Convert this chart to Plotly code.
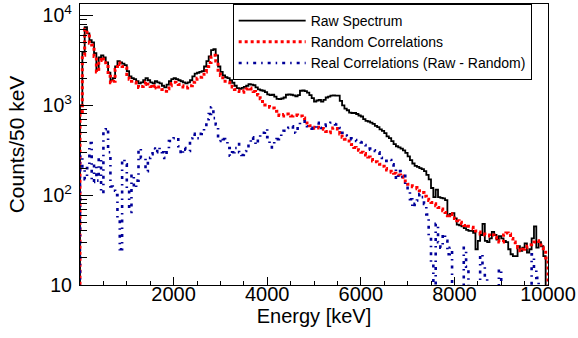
import plotly.graph_objects as go

# ---- data (bin low edges in keV, 50 keV bins) ----
bin_width = 50
bin_edges = list(range(0, 10000, bin_width))

raw_spectrum = [
    1000, 3900, 7400, 6300, 5300, 5000, 3800, 2500, 3400, 3600,
    3400, 3000, 2300, 1900, 2000, 2700, 3100, 3000, 2900, 2800,
    2400, 2100, 2000, 1950, 1850, 1750, 1800, 1900, 2000, 1900,
    1800, 1750, 1850, 1800, 1750, 1650, 1580, 1700, 1850, 1950,
    2000, 1950, 1900, 1850, 1800, 1750, 1800, 1900, 2100, 2250,
    2300, 2350, 2400, 2700, 3100, 3500, 4100, 4200, 3600, 2700,
    2350, 2150, 2050, 2000, 1900, 1780, 1650, 1550, 1520, 1560,
    1600, 1650, 1720, 1700, 1670, 1580, 1500, 1470, 1450, 1400,
    1320, 1300, 1310, 1250, 1180, 1170, 1190, 1220, 1310, 1320,
    1310, 1290, 1260, 1300, 1450, 1460, 1440, 1380, 1300, 1200,
    1100, 1130, 1150, 1100, 1150, 1220, 1250, 1280, 1290, 1280,
    1280, 1120, 1000, 920, 880, 830, 820, 820, 800, 770,
    750, 700, 670, 660, 640, 620, 590, 570, 540, 520,
    490, 450, 430, 400, 370, 350, 340, 330, 315, 295,
    270, 245, 225, 212, 206, 200, 195, 185, 168, 150,
    120, 95, 115, 95, 93, 92, 88, 60, 62, 63,
    55, 47, 46, 45, 43, 41, 40, 40, 38, 25,
    31, 36, 48, 31, 30, 33, 39, 36, 32, 35,
    33, 31, 30, 25, 22, 21, 21, 27, 24, 26,
    29, 23, 25, 33, 45, 26, 30, 27, 21, 0,
]

random_correlations = [
    850, 3600, 7000, 5900, 4900, 4700, 3500, 2350, 3150, 3400,
    3100, 2700, 2100, 1780, 1850, 2500, 2950, 2850, 2700, 2600,
    2200, 1950, 1850, 1800, 1700, 1580, 1620, 1700, 1820, 1720,
    1620, 1560, 1650, 1600, 1600, 1500, 1430, 1530, 1650, 1750,
    1800, 1750, 1700, 1650, 1600, 1560, 1600, 1650, 1800, 1950,
    2000, 2050, 2100, 2350, 2700, 3000, 3450, 3600, 3100, 2450,
    2150, 1950, 1850, 1800, 1700, 1600, 1500, 1450, 1420, 1400,
    1450, 1520, 1560, 1520, 1420, 1320, 1300, 1180, 1060, 1010,
    970, 950, 930, 900, 860, 770, 760, 790, 800, 770,
    760, 770, 780, 770, 760, 720, 670, 610, 590, 570,
    555, 570, 560, 550, 540, 510, 495, 530, 560, 550,
    545, 480, 440, 420, 400, 380, 365, 340, 320, 315,
    300, 290, 280, 265, 250, 240, 235, 228, 220, 210,
    198, 190, 185, 180, 175, 170, 168, 163, 150, 140,
    132, 127, 124, 122, 118, 112, 107, 97, 90, 87,
    83, 80, 76, 73, 70, 67, 64, 59, 62, 61,
    55, 52, 50, 48, 46, 47, 45, 44, 42, 40,
    39, 37, 37, 36, 36, 35, 36, 34, 31, 30,
    30, 36, 38, 37, 33, 30, 28, 26, 24, 25,
    26, 27, 28, 29, 30, 31, 29, 26, 24, 20,
]

real_correlations = [
    280, 200, 150, 200, 380, 140, 220, 145, 260, 105,
    540, 560, 300, 125, 112, 100, 55, 25, 250, 220,
    120, 65, 170, 120, 145, 330, 260, 255, 185, 260,
    285, 330, 300, 340, 320, 300, 260, 330, 400, 420,
    430, 440, 350, 285, 335, 320, 310, 430, 480, 450,
    430, 480, 500, 560, 700, 800, 950, 720, 610, 400,
    430, 420, 400, 335, 275, 300, 335, 370, 300, 280,
    310, 350, 385, 440, 400, 365, 440, 470, 495, 540,
    440, 380, 340, 400, 420, 440, 480, 520, 540, 560,
    585, 540, 495, 610, 640, 665, 620, 585, 560, 550,
    540, 640, 600, 560, 590, 610, 630, 640, 620, 610,
    580, 560, 495, 460, 440, 430, 420, 410, 400, 390,
    385, 360, 340, 330, 320, 315, 310, 300, 275, 260,
    240, 250, 245, 220, 205, 150, 185, 160, 170, 130,
    110, 90, 73, 80, 87, 103, 95, 80, 61, 34,
    18, 0, 48, 30, 26, 37, 31, 22, 26, 0,
    0, 0, 0, 0, 26, 16, 0, 0, 0, 0,
    0, 22, 16, 12, 0, 0, 0, 0, 0, 15,
    0, 0, 0, 0, 0, 0, 0, 0, 0, 0,
    0, 0, 0, 22, 16, 12, 0, 0, 0, 0,
]

series_names = ["Raw Spectrum", "Random Correlations", "Real Correlations (Raw - Random)"]
x_tick_values = [2000, 4000, 6000, 8000, 10000]
x_tick_labels = ["2000", "4000", "6000", "8000", "10000"]

FLOOR = 1.0  # empty / non-positive bins are drawn down to the frame (clipped)
X_MAX = bin_edges[-1] + bin_width


def histogram_outline(values):
    xs = [bin_edges[0]] + bin_edges + [X_MAX, X_MAX]
    ys = [FLOOR] + [max(v, FLOOR) for v in values] + [max(values[-1], FLOOR), FLOOR]
    return xs, ys


FONT = "Liberation Sans, Arial, Helvetica, sans-serif"

styles = [
    dict(color="#000000", width=1.8, dash="solid"),
    dict(color="#ff0000", width=3, dash="3px,3px"),
    dict(color="#000099", width=2.6, dash="3px,5px,1.5px,5px"),
]

fig = go.Figure()
for name, vals, st, grp in zip(series_names,
                               [raw_spectrum, random_correlations, real_correlations],
                               styles, ["a", "b", "c"]):
    xs, ys = histogram_outline(vals)
    fig.add_trace(go.Scatter(
        x=xs, y=ys, mode="lines", name=name, legendgroup=grp,
        line=dict(shape="hv", **st),
    ))

fig.update_layout(
    width=578, height=338,
    margin=dict(l=80, r=29, t=2, b=53),
    paper_bgcolor="white", plot_bgcolor="white",
    font=dict(family=FONT, color="black"),
    showlegend=True,
    legend=dict(
        x=(233 - 80) / 469, y=1, xanchor="left", yanchor="top",
        bgcolor="white", bordercolor="black", borderwidth=1,
        font=dict(family=FONT, size=14, color="black"),
        itemwidth=67, tracegroupgap=0, traceorder="grouped",
    ),
)

fig.update_xaxes(
    range=[0, X_MAX],
    showline=True, linecolor="black", linewidth=1, mirror=True,
    showgrid=False, zeroline=False,
    tickmode="array", tickvals=x_tick_values, ticktext=x_tick_labels,
    ticks="inside", ticklen=8, tickcolor="black", ticklabelstandoff=-9,
    minor=dict(tickmode="linear", tick0=0, dtick=500, ticks="inside", ticklen=4, tickcolor="black"),
    tickfont=dict(family=FONT, size=20, color="black"),
    title=dict(text="Energy [keV]", font=dict(family=FONT, size=20, color="black"), standoff=0),
)

fig.update_yaxes(
    type="log", range=[1, 4.127],
    showline=True, linecolor="black", linewidth=1, mirror=True,
    showgrid=False, zeroline=False,
    tickmode="linear", tick0=0, dtick=1, exponentformat="power",
    ticks="inside", ticklen=13, tickcolor="black", ticklabelstandoff=4,
    minor=dict(dtick="D1", ticks="inside", ticklen=7, tickcolor="black"),
    tickfont=dict(family=FONT, size=15.6, color="black"),
    title=dict(text="Counts/50 keV", font=dict(family=FONT, size=21, color="black"), standoff=12),
)

fig.write_html("out.html")
